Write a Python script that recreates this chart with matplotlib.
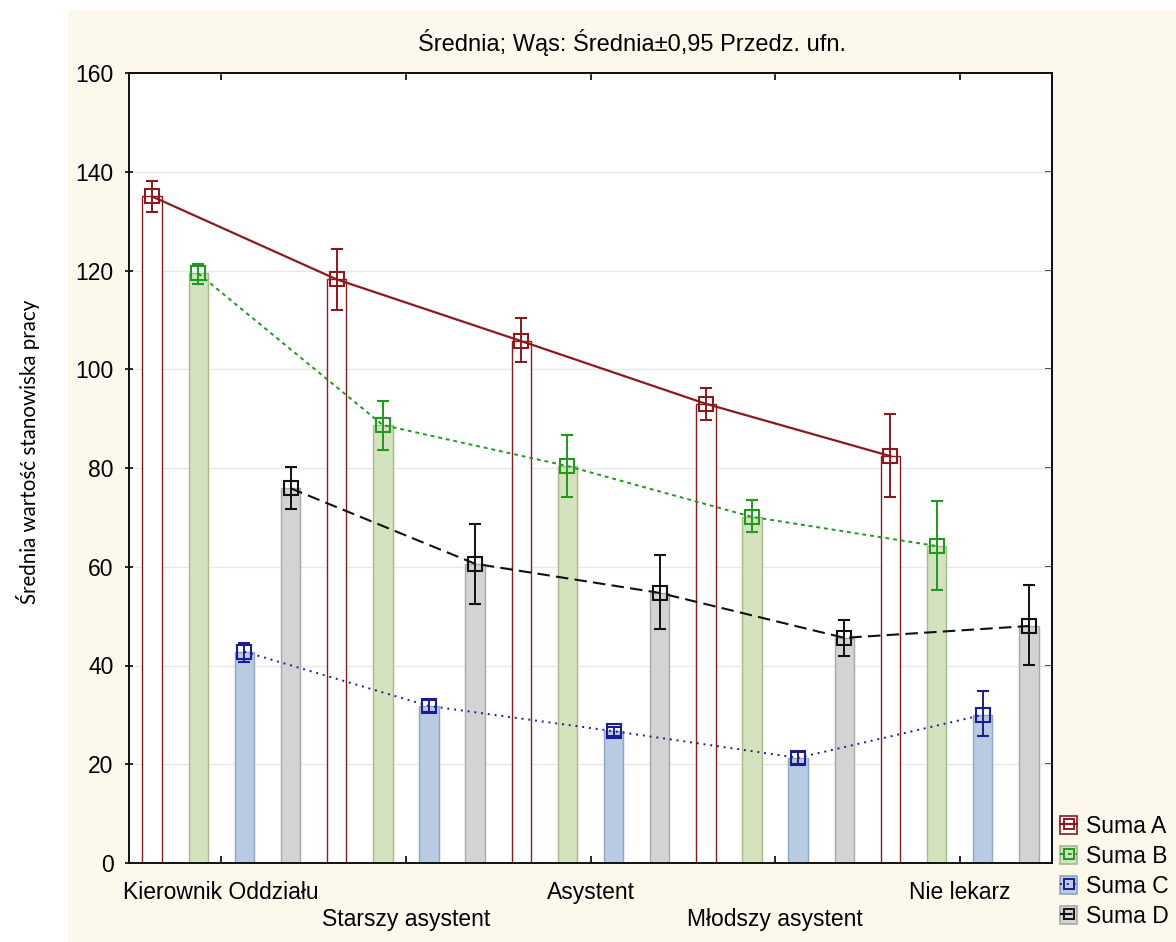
"""
Średnia wartość stanowiska pracy wg stanowiska -- bars + means with 95% CI
"""

import matplotlib
matplotlib.use("Agg")
import matplotlib.pyplot as plt
from matplotlib import font_manager
from matplotlib.patches import Rectangle, Patch
from matplotlib.lines import Line2D
from matplotlib.legend_handler import HandlerTuple
import numpy as np

# ── Data ──────────────────────────────────────────────────────────────────────
GROUPS = ["Kierownik Oddziału", "Starszy asystent", "Asystent",
          "Młodszy asystent", "Nie lekarz"]
SERIES = ["Suma A", "Suma B", "Suma C", "Suma D"]

MEAN_A = [135.0, 118.2, 105.7, 93.0, 82.4]
LO_A   = [131.9, 111.9, 101.5, 89.7, 74.2]
HI_A   = [138.2, 124.4, 110.4, 96.2, 90.9]

MEAN_B = [119.4, 88.7, 80.4, 70.1, 64.2]
LO_B   = [117.3, 83.6, 74.1, 67.0, 55.2]
HI_B   = [121.3, 93.6, 86.7, 73.5, 73.3]

MEAN_C = [42.8, 31.8, 26.7, 21.3, 30.0]
LO_C   = [40.8, 30.6, 25.7, 20.1, 25.7]
HI_C   = [44.5, 33.0, 27.5, 22.5, 34.8]

MEAN_D = [75.9, 60.6, 54.7, 45.6, 48.0]
LO_D   = [71.7, 52.5, 47.4, 41.9, 40.1]
HI_D   = [80.2, 68.6, 62.4, 49.2, 56.3]

Y_TICKS = [0, 20, 40, 60, 80, 100, 120, 140, 160]

TITLE  = "Średnia; Wąs: Średnia±0,95 Przedz. ufn."
YLABEL = "Średnia wartość stanowiska pracy"

# ── Styles ────────────────────────────────────────────────────────────────────
LINE_COLORS = ["#8b1a1f", "#1f9a1f", "#1c1c8e", "#111111"]
BAR_FILLS   = ["#ffffff", "#d4e2bd", "#b8cbe3", "#d3d3d3"]
BAR_EDGES   = ["#8b1a1f", "#a6b98a", "#8ea5c6", "#a8a8a8"]
DASHES      = [None, (2, 2), (1, 2.5), (6, 3)]
LINE_WIDTHS = [1.6, 1.4, 1.4, 1.5]

names = {f.name for f in font_manager.fontManager.ttflist}
if "Liberation Sans Narrow" in names:
    TEXT_FONT, FS = "Liberation Sans Narrow", 20.5
else:
    TEXT_FONT, FS = "Liberation Sans", 16.5
plt.rcParams["font.family"] = [TEXT_FONT, "DejaVu Sans"]

W, H = 1176, 942


def fx(px):
    return px / W


def fy(py):
    return 1 - py / H


fig = plt.figure(figsize=(W / 100, H / 100), dpi=100)
fig.patch.set_facecolor("white")
fig.add_artist(Rectangle((fx(68), 0), 1, fy(10), transform=fig.transFigure,
                         facecolor="#fcf8ec", edgecolor="none", zorder=-10))

ax = fig.add_axes([fx(129), fy(863), fx(1052) - fx(129), fy(73) - fy(863)])
ax.set_facecolor("white")

means = [MEAN_A, MEAN_B, MEAN_C, MEAN_D]
los   = [LO_A, LO_B, LO_C, LO_D]
his   = [HI_A, HI_B, HI_C, HI_D]

n_groups = len(GROUPS)
n_series = len(SERIES)
bar_w = 0.42

for s in range(n_series):
    xs = np.arange(n_groups) * n_series + s
    m = np.array(means[s])
    lo = np.array(los[s])
    hi = np.array(his[s])
    ax.bar(xs, m, width=bar_w, color=BAR_FILLS[s], edgecolor=BAR_EDGES[s],
           linewidth=1.0, zorder=2)
    ln, = ax.plot(xs, m, color=LINE_COLORS[s], lw=LINE_WIDTHS[s], zorder=3)
    if DASHES[s] is not None:
        ln.set_dashes(DASHES[s])
    ax.errorbar(xs, m, yerr=[m - lo, hi - m], fmt="s", ms=10, mfc="none",
                mec=LINE_COLORS[s], mew=1.5, ecolor=LINE_COLORS[s],
                elinewidth=1.4, capsize=4.3, capthick=1.4, zorder=4)

ax.set_xlim(-0.5, n_groups * n_series - 0.5)
ax.set_ylim(0, 160)
ax.set_yticks(Y_TICKS)
ax.yaxis.grid(True, color="#e8e8e8", lw=1.0, zorder=0)
ax.set_axisbelow(True)

centers = np.arange(n_groups) * n_series + (n_series - 1) / 2
labels = [g if i % 2 == 0 else "\n" + g for i, g in enumerate(GROUPS)]
ax.set_xticks(centers)
ax.set_xticklabels(labels, fontsize=FS)
ax.tick_params(axis="x", direction="in", length=5, width=1.2, pad=13)
ax.tick_params(axis="y", direction="inout", length=6, width=1.2,
               labelsize=FS, pad=8)

top = ax.secondary_xaxis("top")
top.set_xticks(centers)
top.tick_params(direction="in", length=5, width=1.2, labeltop=False)
right = ax.secondary_yaxis("right")
right.set_yticks(Y_TICKS)
right.tick_params(direction="in", length=5, width=1.2, labelright=False)

for sp in list(ax.spines.values()) + [top.spines["top"], right.spines["right"]]:
    sp.set_linewidth(1.4)
    sp.set_color("#111111")

fig.text(fx(632), fy(43), TITLE, ha="center", va="center", fontsize=FS * 1.03)
fig.text(fx(28), fy(452), YLABEL, rotation=90, ha="center", va="center",
         fontsize=14.8, family=["Lato", "DejaVu Sans"])

# ── Legend (box + marker like the original) ───────────────────────────────────
handles = []
for s in range(n_series):
    box = Patch(facecolor=BAR_FILLS[s], edgecolor=BAR_EDGES[s], linewidth=1.2)
    ln = Line2D([], [], color=LINE_COLORS[s], lw=LINE_WIDTHS[s], marker="s",
                ms=7, mfc="none", mec=LINE_COLORS[s], mew=1.4)
    if DASHES[s] is not None:
        ln.set_dashes(DASHES[s])
    handles.append((box, ln))

fig.legend(handles, SERIES, loc="upper left",
           bbox_to_anchor=(fx(1060), fy(815)), frameon=False,
           borderpad=0, borderaxespad=0, handlelength=0.75, handleheight=0.85,
           handletextpad=0.4, labelspacing=0.3, fontsize=FS,
           handler_map={tuple: HandlerTuple(ndivide=1, pad=0)})

fig.savefig("out.png", dpi=100)
